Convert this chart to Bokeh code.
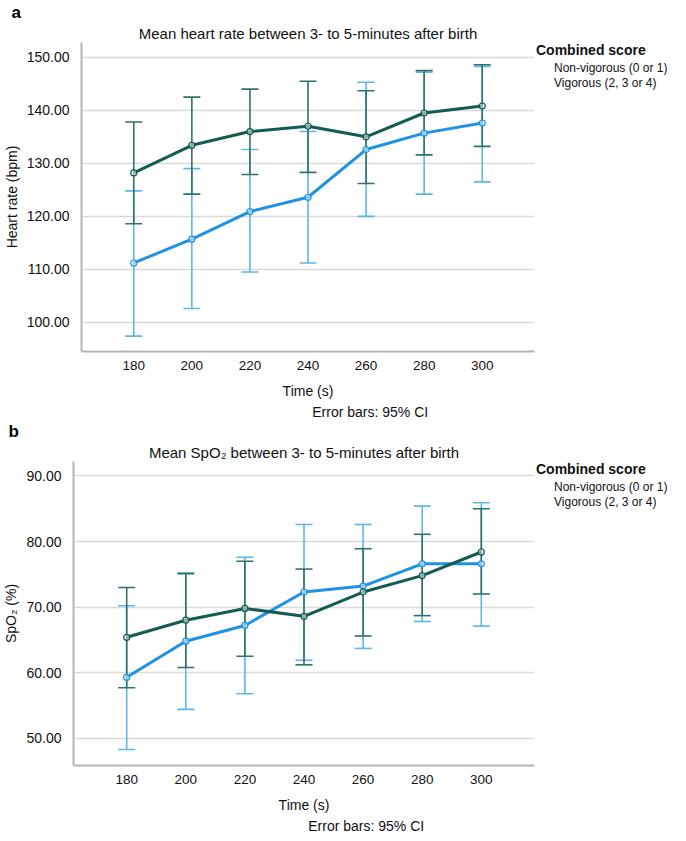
from bokeh.plotting import figure
from bokeh.models import (Range1d, ColumnDataSource, Whisker, TeeHead, Legend, LegendItem,
                          Title, FixedTicker, NumeralTickFormatter)
from bokeh.layouts import column, row
from bokeh.embed import file_html
from bokeh.resources import INLINE

# ---------------- data ----------------
time_s = [180, 200, 220, 240, 260, 280, 300]

hr_nonvig_mean = [111.2, 115.7, 120.9, 123.6, 132.6, 135.7, 137.6]
hr_nonvig_lower = [97.4, 102.6, 109.5, 111.2, 120.0, 124.2, 126.5]
hr_nonvig_upper = [124.8, 129.0, 132.6, 136.0, 145.3, 147.2, 148.3]
hr_vig_mean = [128.2, 133.4, 136.0, 137.0, 135.0, 139.5, 140.8]
hr_vig_lower = [118.6, 124.2, 127.9, 128.3, 126.2, 131.6, 133.2]
hr_vig_upper = [137.8, 142.5, 144.0, 145.5, 143.7, 147.5, 148.6]

spo2_nonvig_mean = [59.3, 64.8, 67.2, 72.3, 73.2, 76.6, 76.6]
spo2_nonvig_lower = [48.3, 54.4, 56.8, 61.9, 63.7, 67.8, 67.1]
spo2_nonvig_upper = [70.2, 75.2, 77.6, 82.6, 82.6, 85.4, 85.9]
spo2_vig_mean = [65.4, 68.0, 69.8, 68.6, 72.3, 74.8, 78.4]
spo2_vig_lower = [57.7, 60.8, 62.5, 61.2, 65.6, 68.7, 72.0]
spo2_vig_upper = [73.0, 75.1, 77.0, 75.8, 78.9, 81.1, 85.0]

hr_ticks = [100, 110, 120, 130, 140, 150]
spo2_ticks = [50, 60, 70, 80, 90]

series_names = ["Non-vigorous (0 or 1)", "Vigorous (2, 3 or 4)"]

# ---------------- style ----------------
FONT = "Liberation Sans"
C_BLUE = "#1f93e2"
C_BLUE_ERR = "#5cb6ec"
C_DARK = "#145b52"
C_DARK_ERR = "#2f7269"
C_GRID = "#dadada"
C_AXIS = "#b5b5b5"
MAIN_W = 536
LEG_W = 670 - MAIN_W
# non-breaking spaces shift the footnote to the right of the axis title, as in the original
ERR_TEXT = "\u00a0" * 32 + "Error bars: 95% CI"


def make_panel(letter, title, ylabel, yticks, yr, nonvig, vig, height,
               b_left, b_top, b_bottom, legend_top):
    p = figure(width=MAIN_W, height=height, output_backend="svg", toolbar_location=None,
               x_range=Range1d(162, 318), y_range=Range1d(*yr),
               min_border_left=b_left, min_border_right=2,
               min_border_top=b_top, min_border_bottom=b_bottom,
               background_fill_color="white", border_fill_color="white")
    p.outline_line_color = None

    p.add_layout(Title(text=title, align="center", text_font=FONT, text_font_size="15px",
                       text_font_style="normal", text_color="#111111", standoff=2), "above")
    p.add_layout(Title(text=letter, align="left", offset=-b_left, text_font=FONT,
                       text_font_size="17px", text_font_style="bold", text_color="#000000",
                       standoff=0), "above")
    p.add_layout(Title(text=ERR_TEXT, align="center", text_font=FONT,
                       text_font_size="14px", text_font_style="normal", text_color="#111111",
                       standoff=0), "below")

    for ax in (p.xaxis[0], p.yaxis[0]):
        ax.axis_line_color = C_AXIS
        ax.axis_line_width = 2
        ax.major_tick_line_color = None
        ax.minor_tick_line_color = None
        ax.major_label_text_font = FONT
        ax.major_label_text_color = "#111111"
        ax.axis_label_text_font = FONT
        ax.axis_label_text_font_style = "normal"
        ax.axis_label_text_font_size = "14px"
        ax.axis_label_text_color = "#111111"
    p.xaxis.ticker = FixedTicker(ticks=time_s)
    p.xaxis.major_label_text_font_size = "13.5px"
    p.xaxis.major_label_standoff = 3
    p.xaxis.axis_label = "Time (s)"
    p.xaxis.axis_label_standoff = 10
    p.yaxis.ticker = FixedTicker(ticks=yticks)
    p.yaxis.formatter = NumeralTickFormatter(format="0.00")
    p.yaxis.major_label_text_font_size = "14px"
    p.yaxis.major_label_standoff = 6
    p.yaxis.axis_label = ylabel
    p.yaxis.axis_label_standoff = 4

    p.xgrid.grid_line_color = None
    p.ygrid.grid_line_color = C_GRID
    p.ygrid.grid_line_width = 1.5

    for (mean, lower, upper), ecol in ((nonvig, C_BLUE_ERR), (vig, C_DARK_ERR)):
        src = ColumnDataSource(dict(x=time_s, lower=lower, upper=upper))
        w = Whisker(source=src, base="x", upper="upper", lower="lower",
                    line_color=ecol, line_width=1.6,
                    upper_head=TeeHead(size=17, line_color=ecol, line_width=1.6),
                    lower_head=TeeHead(size=17, line_color=ecol, line_width=1.6))
        p.add_layout(w)
    for (mean, lower, upper), col in ((nonvig, C_BLUE), (vig, C_DARK)):
        src = ColumnDataSource(dict(x=time_s, mean=mean))
        p.line("x", "mean", source=src, line_color=col, line_width=3)
        p.scatter("x", "mean", source=src, marker="circle", size=6, fill_color="white",
                  fill_alpha=0.5, line_color=col, line_width=1.2)

    # legend lives in a narrow companion figure to the right of the plot
    lg = figure(width=LEG_W, height=height, output_backend="svg", toolbar_location=None,
                x_axis_type=None, y_axis_type=None,
                min_border_left=0, min_border_right=0, min_border_bottom=0,
                min_border_top=legend_top,
                background_fill_color="white", border_fill_color="white")
    lg.outline_line_color = None
    lg.grid.visible = False
    r0 = lg.line(x=[], y=[], line_color=C_BLUE, line_width=3)
    r1 = lg.line(x=[], y=[], line_color=C_DARK, line_width=3)
    legend = Legend(items=[LegendItem(label=series_names[0], renderers=[r0]),
                           LegendItem(label=series_names[1], renderers=[r1])],
                    location="top_left", title="Combined score",
                    title_text_font=FONT, title_text_font_size="14px",
                    title_text_font_style="bold", title_text_color="#111111",
                    title_standoff=3,
                    label_text_font=FONT, label_text_font_size="12px",
                    label_text_color="#111111",
                    glyph_width=12, glyph_height=14, label_height=14, label_standoff=6,
                    spacing=1, padding=0, margin=0,
                    border_line_alpha=0, background_fill_alpha=0)
    lg.add_layout(legend, "center")
    return row(p, lg, spacing=0)


pa = make_panel("a", "Mean heart rate between 3- to 5-minutes after birth", "Heart rate (bpm)",
                hr_ticks, (94.5, 152.8),
                (hr_nonvig_mean, hr_nonvig_lower, hr_nonvig_upper),
                (hr_vig_mean, hr_vig_lower, hr_vig_upper),
                419, 70, 32, 67, 38)
pb = make_panel("b", "Mean SpO\u2082 between 3- to 5-minutes after birth", "SpO\u2082 (%)",
                spo2_ticks, (45.85, 92.2),
                (spo2_nonvig_mean, spo2_nonvig_lower, spo2_nonvig_upper),
                (spo2_vig_mean, spo2_vig_lower, spo2_vig_upper),
                414, 65, 32, 61, 39)

layout = column(pa, pb, spacing=0)
open("out.html", "w").write(file_html(layout, INLINE))
